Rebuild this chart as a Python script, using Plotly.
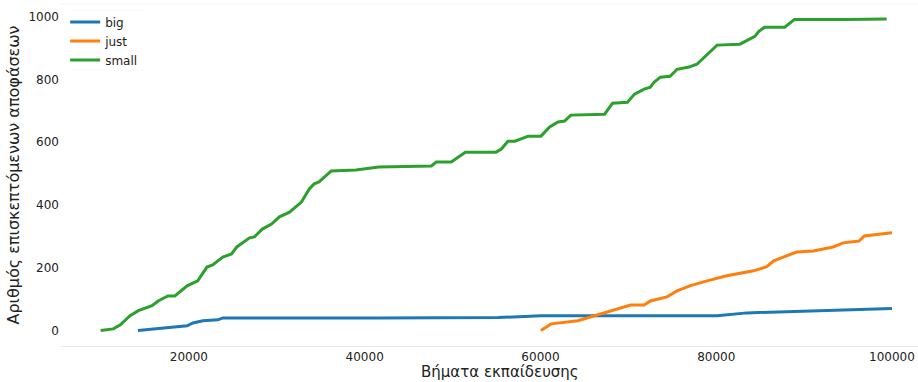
import plotly.graph_objects as go

# Training steps and cumulative number of visited decisions per category
big_steps = [14200, 19800, 20450, 21600, 23300, 23850, 41600, 55200, 60050,
             80100, 83500, 91050, 100000]
big_counts = [0, 15, 24, 31, 34, 40, 40, 41, 47, 47, 56, 63, 70]

just_steps = [60050, 61200, 64250, 66150, 68000, 70250, 71800, 72500, 74400,
              75550, 77000, 78950, 81200, 84250, 85750, 86550, 89150, 91050,
              93300, 94450, 96250, 96850, 100000]
just_counts = [0, 21, 31, 47, 63, 81, 81, 94, 107, 126, 142, 158, 174, 190,
               203, 222, 250, 253, 266, 279, 285, 301, 311]

small_steps = [9950, 11400, 12200, 13300, 14250, 15800, 16500, 17600, 18400,
               19800, 21000, 22050, 22700, 23850, 24850, 25450, 26900, 27450,
               28350, 29400, 30300, 31450, 32800, 33700, 34250, 34800, 36200,
               39000, 41600, 47600, 48150, 49850, 51450, 54950, 55550, 56300,
               57100, 58600, 60050, 61050, 62000, 62750, 63450, 67300, 68200,
               69900, 70700, 71800, 72500, 72950, 73650, 74750, 75550, 76900,
               77800, 78950, 80100, 82700, 83700, 84400, 84850, 85500, 87800,
               88900, 94800, 99400]
small_counts = [0, 5, 18, 47, 63, 79, 94, 110, 110, 142, 158, 202, 209, 234,
                244, 266, 295, 298, 323, 339, 362, 377, 409, 451, 467, 473, 508,
                511, 521, 524, 537, 537, 568, 568, 578, 603, 603, 619, 619, 648,
                664, 667, 686, 689, 724, 727, 753, 769, 775, 791, 807, 810, 832,
                839, 848, 880, 909, 912, 928, 937, 953, 966, 966, 991, 991, 992]

x_ticks = [20000, 40000, 60000, 80000, 100000]
y_ticks = [0, 200, 400, 600, 800, 1000]

series = [
    ("big", big_steps, big_counts, "#1f77b4"),
    ("just", just_steps, just_counts, "#ff7f0e"),
    ("small", small_steps, small_counts, "#2ca02c"),
]

fig = go.Figure()
for name, xs, ys, color in series:
    fig.add_trace(go.Scatter(
        x=xs, y=ys, name=name, mode="lines",
        line=dict(color=color, width=3),
    ))

text_color = "#222222"
frame_color = "#e6e6e6"
fig.update_layout(
    width=918, height=382,
    margin=dict(l=60, r=0, t=4, b=36),
    paper_bgcolor="white", plot_bgcolor="white",
    font=dict(family="DejaVu Sans", size=12, color=text_color),
    showlegend=True,
    legend=dict(
        x=0.006, y=0.99, xanchor="left", yanchor="top",
        bgcolor="rgba(255,255,255,0.8)", borderwidth=0,
        font=dict(size=12, color=text_color),
        tracegroupgap=0,
    ),
    xaxis=dict(
        range=[5330, 102960], tickvals=x_ticks,
        ticktext=[str(v) for v in x_ticks],
        showgrid=False, zeroline=False, ticks="", ticklabelstandoff=0,
        showline=True, linecolor="#ebebeb", linewidth=1,
        tickfont=dict(size=12, color=text_color),
    ),
    yaxis=dict(
        range=[-49.5, 1040], tickvals=y_ticks,
        showgrid=False, zeroline=False, ticks="", showline=False,
        tickfont=dict(size=12, color=text_color),
        title=dict(text="Αριθμός επισκεπτόμενων αποφάσεων", font=dict(size=16, color=text_color), standoff=4),
    ),
    annotations=[
        # x-axis title pinned to the bottom edge
        dict(text="Βήματα εκπαίδευσης", xref="paper", yref="paper",
             x=0.513, y=-0.105, xanchor="center", yanchor="bottom",
             showarrow=False, borderpad=0,
             font=dict(size=15, color=text_color)),
    ],
    shapes=[
        # faint top frame line
        dict(type="line", xref="paper", yref="paper", x0=0, x1=1, y0=1, y1=1,
             line=dict(color="#f4f4f4", width=1)),
        # legend frame edges
        dict(type="line", xref="paper", yref="paper", x0=0.0093, x1=0.0967,
             y0=0.982, y1=0.982, line=dict(color=frame_color, width=1), layer="above"),
        dict(type="line", xref="paper", yref="paper", x0=0.0093, x1=0.0967,
             y0=0.807, y1=0.807, line=dict(color=frame_color, width=1), layer="above"),
    ],
)

fig.write_html("out.html")
